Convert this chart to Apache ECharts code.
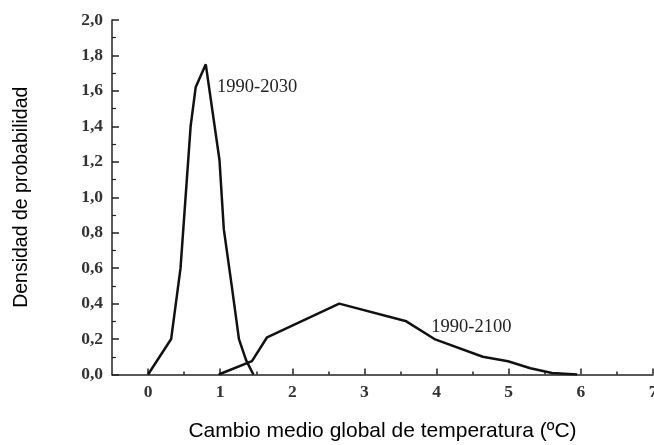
<!DOCTYPE html>
<html>
<head>
<meta charset="utf-8">
<script src="https://cdn.jsdelivr.net/npm/echarts@6/dist/echarts.min.js"></script>
<style>
html,body{margin:0;padding:0;background:#fff;}
#chart{width:654px;height:445px;}
</style>
</head>
<body>
<div id="chart"></div>
<script>
// Data
var series2030Name = '1990-2030';
var series2030 = [
  [0, 0], [0.32, 0.2], [0.45, 0.6], [0.59, 1.4], [0.66, 1.62], [0.8, 1.75],
  [0.99, 1.21], [1.05, 0.82], [1.16, 0.5], [1.26, 0.2], [1.36, 0.08], [1.46, 0]
];
var series2100Name = '1990-2100';
var series2100 = [
  [0.98, 0], [1.44, 0.075], [1.65, 0.21], [2.65, 0.4], [3.58, 0.3], [3.97, 0.2],
  [4.64, 0.1], [4.99, 0.075], [5.3, 0.035], [5.6, 0.008], [5.95, 0]
];
var xMajorTicks = [0, 1, 2, 3, 4, 5, 6, 7];
var xMinorTicks = [0.5, 1.5, 2.5, 3.5, 4.5, 5.5, 6.5];
var xTitle = 'Cambio medio global de temperatura (ºC)';
var yTitle = 'Densidad de probabilidad';

var chart = echarts.init(document.getElementById('chart'));
var serif = 'Liberation Serif';
var sans = 'Liberation Sans';
var axisColor = '#222';
var labelStyle = {fontFamily: serif, fontSize: 17.5, fontWeight: 'bold', color: '#333'};
var seriesLabel = {show: true, formatter: '{b}', position: 'right', distance: 0, fontFamily: serif, fontSize: 18.5, color: '#222'};

chart.setOption({
  animation: false,
  backgroundColor: '#fff',
  grid: {left: 112, right: 1, top: 20, bottom: 70.5, containLabel: false, outerBoundsMode: 'none'},
  xAxis: [{
    type: 'value', min: -0.5, max: 7,
    name: xTitle, nameLocation: 'middle', nameGap: 46,
    nameTextStyle: {fontFamily: sans, fontSize: 21, color: '#000'},
    axisLine: {show: true, onZero: false, lineStyle: {color: axisColor, width: 1.5}},
    axisTick: {show: true, inside: true, length: 6, customValues: xMajorTicks, lineStyle: {color: axisColor, width: 1.5}},
    axisLabel: Object.assign({customValues: xMajorTicks, margin: 9}, labelStyle),
    splitLine: {show: false}
  }, {
    type: 'value', min: -0.5, max: 7, position: 'bottom',
    axisLine: {show: false, onZero: false},
    axisTick: {show: true, inside: true, length: 3, customValues: xMinorTicks, lineStyle: {color: axisColor, width: 1.5}},
    axisLabel: {show: false},
    splitLine: {show: false}
  }],
  yAxis: {
    type: 'value', min: 0, max: 2, interval: 0.2,
    name: yTitle, nameLocation: 'middle', nameGap: 80, nameRotate: 90,
    nameTextStyle: {fontFamily: sans, fontSize: 19.5, color: '#000'},
    axisLine: {show: true, onZero: false, lineStyle: {color: axisColor, width: 1.5}},
    axisTick: {show: true, inside: true, length: 7, lineStyle: {color: axisColor, width: 1.5}},
    minorTick: {show: true, splitNumber: 2, length: 4, lineStyle: {color: axisColor, width: 1.2}},
    axisLabel: Object.assign({margin: 9, formatter: function (v) { return v.toFixed(1).replace('.', ','); }}, labelStyle),
    splitLine: {show: false},
    minorSplitLine: {show: false}
  },
  series: [{
    name: series2030Name, type: 'line', data: series2030, xAxisIndex: 0,
    showSymbol: false, symbol: 'none',
    lineStyle: {color: '#111', width: 2.5},
    markPoint: {
      symbol: 'circle', symbolSize: 1, itemStyle: {color: 'rgba(0,0,0,0)'},
      label: seriesLabel,
      data: [{name: series2030Name, coord: [0.95, 1.62]}]
    }
  }, {
    name: series2100Name, type: 'line', data: series2100, xAxisIndex: 0,
    showSymbol: false, symbol: 'none',
    lineStyle: {color: '#111', width: 2.5},
    markPoint: {
      symbol: 'circle', symbolSize: 1, itemStyle: {color: 'rgba(0,0,0,0)'},
      label: seriesLabel,
      data: [{name: series2100Name, coord: [3.92, 0.27]}]
    }
  }]
});
</script>
</body>
</html>
